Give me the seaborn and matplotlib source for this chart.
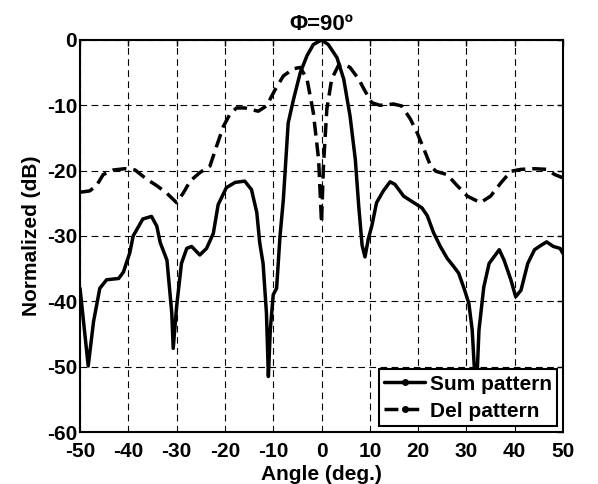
import numpy as np
import pandas as pd
import matplotlib
matplotlib.use("Agg")
import matplotlib.pyplot as plt
from matplotlib.lines import Line2D
import seaborn as sns

# Sum pattern (solid)
sum_angle = [-50, -48.3, -47.2, -45.9, -44.5, -42, -41, -40.3, -39.7, -39, -37, -35.2, -34.1, -33.4,
             -32, -31, -30.7, -30, -29, -27.9, -26.9, -25.2, -23.8, -22.4, -21.4, -19.7, -17.9, -15.9,
             -14.5, -13.4, -12.8, -12.1, -11.4, -11.0, -10.6, -10, -9.3, -8.6, -7.9, -6.9, -5.8, -4.4,
             -3.0, -1.7, 0, 1.4, 3.2, 4.6, 5.9, 7.0, 7.7, 8.4, 9.0, 9.7, 10.4, 11.4, 12.8, 14.2, 15.2,
             17, 19.1, 20.8, 21.9, 23.2, 24.6, 26, 27.4, 28.4, 29.5, 30.5, 31.2, 32.0, 32.6, 33.6, 34.7,
             35.7, 36.8, 37.8, 39.2, 40.2, 41.3, 42.7, 44.1, 45.5, 46.6, 48, 49.4, 50]
sum_db = [-38, -49.9, -43.1, -38, -36.7, -36.5, -35.5, -33.9, -32.6, -30, -27.4, -27, -28.5, -31,
          -33.7, -41.8, -47.2, -40.8, -34.2, -31.9, -31.6, -32.9, -31.9, -29.6, -25.2, -22.6, -21.8, -21.6,
          -22.9, -26.4, -31, -34.2, -41.8, -51.5, -44.3, -39, -38, -30.1, -24.4, -12.7, -9.1, -5,
          -2.4, -0.7, 0, -0.7, -2.7, -6, -11.6, -18.3, -25.4, -31.4, -33.2, -30.4, -28.5, -24.9, -23.1, -21.7, -22.1,
          -23.9, -24.9, -25.7, -26.9, -29.5, -31.6, -33.4, -34.7, -35.7, -38, -40.3, -44.4, -55, -44.4, -37.8, -34.2,
          -33.2, -32.1, -33.7, -36.7, -39.3, -38.3, -34.2, -32.1, -31.4, -30.9, -31.6, -31.9, -32.7]

# Del pattern (dashed)
del_angle = [-50, -48, -46.6, -45.2, -43.1, -40.7, -38.6, -36.2, -34.1, -32.1, -30, -28.6, -27.2, -25.2,
             -23.1, -21.7, -20.3, -19, -17.6, -15.9, -13.1, -11.4, -9.6, -7.9, -5.8, -4.4, -3.0, -1.7,
             -0.6, 0, 0.4, 1.1, 2.1, 3.5, 4.6, 5.9, 7.7, 9, 10.4, 12.1, 14.9, 16.6, 18.4, 19.8, 21.2,
             22.6, 23.7, 26, 28.1, 30.2, 32.9, 35, 37.1, 39.2, 41.3, 44.1, 46.6, 48.3, 50]
del_db = [-23.3, -23.1, -22.3, -20.6, -19.9, -19.7, -19.9, -21.3, -22.3, -23.4, -24.9, -23.4, -21.6, -20.3,
          -19.3, -16.2, -13.2, -11.4, -10.4, -10.4, -10.9, -10.1, -7.6, -5.5, -4.4, -4.2, -6, -11.1,
          -18.3, -28, -19.3, -10.6, -6, -3.9, -3.7, -4.2, -6, -7.8, -9.6, -10, -9.8, -10.1, -12.1, -14.2, -16.7,
          -19.3, -20.1, -20.6, -22.3, -23.9, -24.9, -23.9, -21.9, -20.1, -19.8, -19.7, -19.8, -20.6, -21.1]

series_names = ["Sum pattern", "Del pattern"]
x_ticks = [-50, -40, -30, -20, -10, 0, 10, 20, 30, 40, 50]
y_ticks = [0, -10, -20, -30, -40, -50, -60]

df = pd.concat([
    pd.DataFrame({"angle": sum_angle, "db": sum_db, "series": series_names[0]}),
    pd.DataFrame({"angle": del_angle, "db": del_db, "series": series_names[1]}),
])

sns.set_style("white")
plt.rcParams["font.family"] = ["Liberation Sans", "DejaVu Sans"]
plt.rcParams["font.weight"] = "bold"
plt.rcParams["axes.unicode_minus"] = False
for key in ["text.color", "axes.labelcolor", "xtick.color", "ytick.color", "axes.titlecolor"]:
    plt.rcParams[key] = "black"

FS = 15

fig = plt.figure(figsize=(5.98, 4.84), dpi=100)
ax = fig.add_axes([0.1338, 0.1074, 0.8077, 0.81])

sns.lineplot(data=df, x="angle", y="db", hue="series", style="series",
             palette={series_names[0]: "black", series_names[1]: "black"},
             dashes={series_names[0]: "", series_names[1]: (4, 2)},
             linewidth=2.5, sort=False, estimator=None, legend=False, ax=ax, zorder=3)

ax.set_xlim(-50, 50)
ax.set_ylim(-60, 0)
ax.set_xticks(x_ticks)
ax.set_yticks(y_ticks)
ax.set_xticklabels([str(v) for v in x_ticks])
ax.set_yticklabels([str(v) for v in y_ticks])
ax.tick_params(direction="in", length=4, width=1, labelsize=FS, top=True, right=True)
ax.tick_params(axis="x", pad=7)
ax.tick_params(axis="y", pad=2)
for lab in ax.get_xticklabels() + ax.get_yticklabels():
    lab.set_fontweight("bold")
ax.grid(True, color="black", linestyle=(0, (6, 4)), linewidth=0.8)
for s in ax.spines.values():
    s.set_visible(True)
    s.set_color("black")
    s.set_linewidth(1.5)

ax.set_xlabel("Angle (deg.)", fontsize=FS, fontweight="bold", labelpad=3)
ax.set_ylabel("Normalized (dB)", fontsize=FS, fontweight="bold", labelpad=4)
ax.set_title("Φ=90º", fontsize=16, fontweight="bold", pad=7)

handles = [
    Line2D([], [], color="black", lw=2.5, ls="-", marker="o", markersize=4),
    Line2D([], [], color="black", lw=2.5, ls=(0, (4, 2)), marker="o", markersize=4),
]
leg = ax.legend(handles, series_names, loc="lower right", frameon=True,
                fancybox=False, edgecolor="black", framealpha=1, handlelength=2.0,
                handletextpad=0.2, borderpad=0.25, labelspacing=0.38, borderaxespad=0.3,
                prop={"weight": "bold", "size": FS})
leg.get_frame().set_linewidth(1.5)
leg.set_zorder(5)

fig.savefig("out.png", dpi=100)
